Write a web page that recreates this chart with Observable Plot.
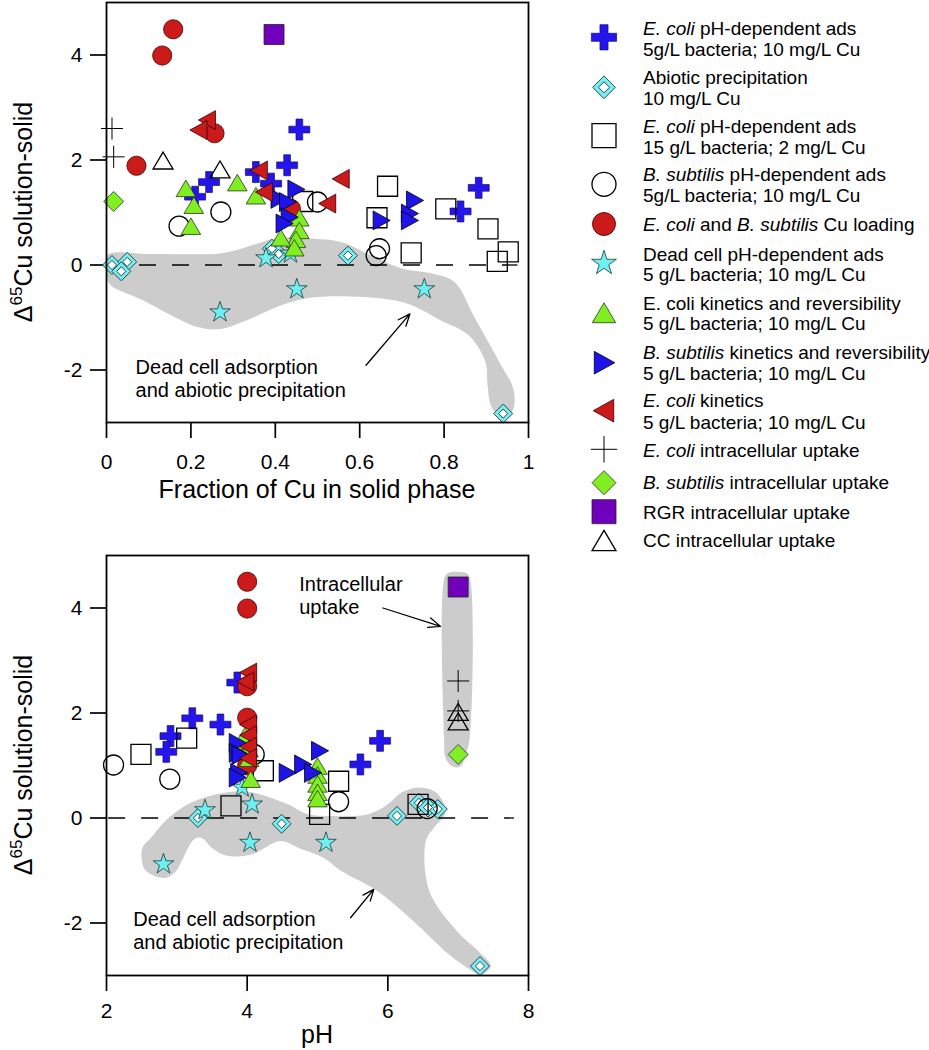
<!DOCTYPE html>
<html>
<head>
<meta charset="utf-8">
<script src="https://cdn.jsdelivr.net/npm/d3@7"></script>
<script src="https://cdn.jsdelivr.net/npm/@observablehq/plot@0.6"></script>
<style>
  body { margin: 0; background: #fff; font-family: "Liberation Sans", Arial, Helvetica, sans-serif; }
  #page { position: relative; width: 929px; height: 1050px; overflow: hidden; background: #fff; }
  .panel { position: absolute; left: 0; }
  #legend { position: absolute; left: 570px; top: 0; }
  svg [aria-label^="x-axis"] line, svg [aria-label^="x-axis"] path,
  svg [aria-label^="y-axis"] line, svg [aria-label^="y-axis"] path { stroke-width: 1.7px; }
</style>
</head>
<body>
<div id="page">
  <div id="top" class="panel" style="top:0px"></div>
  <div id="bot" class="panel" style="top:553px"></div>
  <div id="legend"></div>
</div>
<script>
// ---------------- DATA ----------------
// Tick values and labels
const fracTicks = [0, 0.2, 0.4, 0.6, 0.8, 1];
const fracTickLabels = ["0", "0.2", "0.4", "0.6", "0.8", "1"];
const phTicks = [2, 4, 6, 8];
const phTickLabels = ["2", "4", "6", "8"];
const dTicks = [-2, 0, 2, 4];
const dTickLabels = ["-2", "0", "2", "4"];

// Top panel: x = fraction of Cu in solid phase, y = Δ65Cu solution-solid
const ecAds5Frac = [0.457, 0.428, 0.354, 0.243, 0.210, 0.390, 0.882, 0.839];
const ecAds5FracD = [2.58, 1.90, 1.77, 1.58, 1.30, 1.55, 1.47, 1.02];
const abioticFrac = [0.013, 0.049, 0.035, 0.392, 0.408, 0.572, 0.940];
const abioticFracD = [0.00, 0.06, -0.12, 0.31, 0.21, 0.18, -2.83];
const ecAds15Frac = [0.666, 0.641, 0.804, 0.904, 0.722, 0.952, 0.926, 0.465];
const ecAds15FracD = [1.50, 0.90, 1.07, 0.69, 0.23, 0.25, 0.07, 1.21];
const bsAdsFrac = [0.172, 0.271, 0.500, 0.647, 0.639];
const bsAdsFracD = [0.74, 1.01, 1.20, 0.31, 0.18];
const loadingFrac = [0.158, 0.132, 0.071, 0.256, 0.437];
const loadingFracD = [4.49, 3.99, 1.89, 2.51, 1.07];
const deadFrac = [0.269, 0.378, 0.451, 0.753, 0.436];
const deadFracD = [-0.90, 0.13, -0.46, -0.46, 0.22];
const ecKinRevFrac = [0.188, 0.207, 0.200, 0.310, 0.354, 0.457, 0.457, 0.449, 0.445, 0.413];
const ecKinRevFracD = [1.44, 1.12, 0.72, 1.55, 1.30, 0.88, 0.64, 0.47, 0.31, 0.50];
const bsKinRevFrac = [0.449, 0.409, 0.429, 0.433, 0.421, 0.730, 0.718, 0.718, 0.651];
const bsKinRevFracD = [1.44, 1.26, 1.20, 0.91, 0.79, 1.23, 0.98, 0.85, 0.85];
const ecKinFrac = [0.239, 0.219, 0.362, 0.374, 0.556, 0.524];
const ecKinFracD = [2.76, 2.57, 1.80, 1.39, 1.64, 1.17];
const ecIntraFrac = [0.013, 0.017];
const ecIntraFracD = [2.60, 2.06];
const bsIntraFrac = [0.017];
const bsIntraFracD = [1.21];
const rgrFrac = [0.397];
const rgrFracD = [4.39];
const ccFrac = [0.134, 0.269];
const ccFracD = [1.97, 1.80];

// Bottom panel: x = pH, y = Δ65Cu solution-solid
const ecAds5PH = [3.86, 3.22, 3.62, 2.91, 2.85, 5.89, 5.61];
const ecAds5PHD = [2.58, 1.90, 1.78, 1.56, 1.26, 1.47, 1.02];
const abioticPH = [3.30, 4.49, 6.13, 6.44, 6.57, 6.71, 7.31];
const abioticPHD = [0.00, -0.11, 0.04, 0.29, 0.20, 0.17, -2.82];
const ecAds15PH = [2.49, 3.14, 3.77, 4.23, 5.30, 5.03, 6.43];
const ecAds15PHD = [1.21, 1.52, 0.23, 0.90, 0.70, 0.07, 0.26];
const bsAdsPH = [2.10, 2.90, 4.10, 5.30, 6.56];
const bsAdsPHD = [1.01, 0.74, 1.21, 0.31, 0.18];
const loadingPH = [4.0, 4.0, 4.0, 4.0, 4.0];
const loadingPHD = [4.50, 3.99, 2.51, 1.91, 1.00];
const deadPH = [2.81, 3.40, 4.07, 4.04, 5.12, 3.93];
const deadPHD = [-0.88, 0.15, 0.26, -0.47, -0.47, 0.58];
const ecKinRevPH = [3.98, 4.03, 4.05, 3.97, 4.02, 5.0, 5.0, 5.0, 5.0, 5.0];
const ecKinRevPHD = [1.44, 1.12, 0.72, 1.55, 1.30, 0.97, 0.80, 0.63, 0.47, 0.35];
const bsKinRevPH = [3.86, 3.86, 3.90, 3.88, 3.86, 5.03, 4.79, 4.93, 4.57];
const bsKinRevPHD = [1.43, 1.24, 1.20, 0.86, 0.77, 1.28, 1.02, 0.86, 0.86];
const ecKinPH = [4.02, 3.98, 4.02, 4.02, 4.02, 4.02];
const ecKinPHD = [2.77, 2.60, 1.78, 1.58, 1.36, 1.14];
const ecIntraPH = [7.0, 7.0];
const ecIntraPHD = [2.61, 2.04];
const bsIntraPH = [7.0];
const bsIntraPHD = [1.21];
const rgrPH = [7.0];
const rgrPHD = [4.40];
const ccPH = [7.0, 7.0];
const ccPHD = [2.00, 1.82];

// Shaded envelopes
const deadBandFrac = [0.002, 0.105, 0.278, 0.354, 0.401, 0.461, 0.556, 0.620, 0.698, 0.777, 0.824, 0.874, 0.931, 0.964, 0.964, 0.941, 0.912, 0.903, 0.898, 0.857, 0.791, 0.722, 0.665, 0.499, 0.416, 0.333, 0.266, 0.216, 0.081, 0.007, 0.0];
const deadBandFracD = [0.19, 0.21, 0.23, 0.40, 0.51, 0.51, 0.44, 0.21, -0.06, -0.17, -0.32, -1.03, -1.85, -2.36, -2.74, -2.95, -2.70, -2.29, -1.85, -1.33, -1.05, -0.76, -0.65, -0.61, -0.76, -1.05, -1.22, -1.18, -0.65, -0.36, -0.13];
const deadBandPH = [2.53, 2.51, 2.63, 2.89, 3.20, 3.55, 3.91, 4.19, 4.58, 4.86, 5.19, 5.72, 6.00, 6.19, 6.43, 6.66, 6.78, 6.81, 6.66, 6.54, 6.59, 6.98, 7.28, 7.46, 7.33, 7.13, 6.87, 6.36, 5.85, 5.34, 5.09, 4.73, 4.47, 4.07, 3.71, 3.50, 3.35, 3.25, 3.09, 2.99, 2.84, 2.68];
const deadBandPHD = [-0.95, -0.57, -0.38, 0.01, 0.29, 0.45, 0.51, 0.45, 0.26, 0.07, 0.04, 0.07, 0.26, 0.48, 0.58, 0.51, 0.32, 0.07, -0.18, -0.44, -1.39, -2.15, -2.53, -2.82, -2.98, -2.85, -2.60, -1.96, -1.39, -1.01, -0.76, -0.57, -0.44, -0.69, -0.72, -0.57, -0.38, -0.40, -0.76, -1.01, -1.14, -1.10];
const intraBandPH = [6.80, 6.85, 6.98, 7.12, 7.17, 7.17, 7.12, 7.03, 6.92, 6.82, 6.80];
const intraBandPHD = [4.55, 4.66, 4.69, 4.66, 4.55, 1.60, 1.25, 0.98, 0.98, 1.15, 1.50];

// Annotations
const topNoteX = [0.069], topNoteY = [-2.16], topNoteText = ["Dead cell adsorption\nand abiotic precipitation"];
const topArrowX1 = [0.615], topArrowY1 = [-1.91], topArrowX2 = [0.719], topArrowY2 = [-0.93];
const botNoteX = [2.38, 4.74], botNoteY = [-2.14, 4.25], botNoteText = ["Dead cell adsorption\nand abiotic precipitation", "Intracellular\nuptake"];
const botArrowX1 = [5.47, 5.93], botArrowY1 = [-1.90, 4.00], botArrowX2 = [5.80, 6.75], botArrowY2 = [-1.36, 3.65];

// Legend labels: segments of [text, italic]
const legendLabels = [
  [[["E. coli", 1], [" pH-dependent ads", 0]], [["5g/L bacteria; 10 mg/L Cu", 0]]],
  [[["Abiotic precipitation", 0]], [["10 mg/L Cu", 0]]],
  [[["E. coli", 1], [" pH-dependent ads", 0]], [["15 g/L bacteria; 2 mg/L Cu", 0]]],
  [[["B. subtilis", 1], [" pH-dependent ads", 0]], [["5g/L bacteria; 10 mg/L Cu", 0]]],
  [[["E. coli", 1], [" and ", 0], ["B. subtilis", 1], [" Cu loading", 0]]],
  [[["Dead cell pH-dependent ads", 0]], [["5 g/L bacteria; 10 mg/L Cu", 0]]],
  [[["E. coli kinetics and reversibility", 0]], [["5 g/L bacteria; 10 mg/L Cu", 0]]],
  [[["B. subtilis", 1], [" kinetics and reversibility", 0]], [["5 g/L bacteria; 10 mg/L Cu", 0]]],
  [[["E. coli", 1], [" kinetics", 0]], [["5 g/L bacteria; 10 mg/L Cu", 0]]],
  [[["E. coli", 1], [" intracellular uptake", 0]]],
  [[["B. subtilis", 1], [" intracellular uptake", 0]]],
  [[["RGR intracellular uptake", 0]]],
  [[["CC intracellular uptake", 0]]]
];

// ---------------- SYMBOLS ----------------
const rOf = (size) => Math.sqrt(size / Math.PI);
const crossSym = { draw(c, size) { const r = rOf(size), t = r * 0.32;
  c.moveTo(-r, -t); c.lineTo(-t, -t); c.lineTo(-t, -r); c.lineTo(t, -r); c.lineTo(t, -t); c.lineTo(r, -t);
  c.lineTo(r, t); c.lineTo(t, t); c.lineTo(t, r); c.lineTo(-t, r); c.lineTo(-t, t); c.lineTo(-r, t); c.closePath(); } };
const thinPlusSym = { draw(c, size) { const r = rOf(size); c.moveTo(-r, 0); c.lineTo(r, 0); c.moveTo(0, -r); c.lineTo(0, r); } };
const diamondSym = { draw(c, size) { const r = rOf(size); c.moveTo(0, -r); c.lineTo(r, 0); c.lineTo(0, r); c.lineTo(-r, 0); c.closePath(); } };
const squareSym = { draw(c, size) { const r = rOf(size); c.moveTo(-r, -r); c.lineTo(r, -r); c.lineTo(r, r); c.lineTo(-r, r); c.closePath(); } };
const triUpSym = { draw(c, size) { const r = rOf(size); c.moveTo(0, -r); c.lineTo(1.05 * r, 0.78 * r); c.lineTo(-1.05 * r, 0.78 * r); c.closePath(); } };
const triRightSym = { draw(c, size) { const r = rOf(size); c.moveTo(r, 0); c.lineTo(-0.9 * r, -1.05 * r); c.lineTo(-0.9 * r, 1.05 * r); c.closePath(); } };
const triLeftSym = { draw(c, size) { const r = rOf(size); c.moveTo(-r, 0); c.lineTo(0.9 * r, -1.05 * r); c.lineTo(0.9 * r, 1.05 * r); c.closePath(); } };

const styles = [
  { symbol: crossSym, r: 10.5, fill: "#2414ee", stroke: "#1a1060", strokeWidth: 0.7 },
  [{ symbol: diamondSym, r: 9.5, fill: "#78eef2", stroke: "#1a3a3a", strokeWidth: 0.9 },
   { symbol: diamondSym, r: 4.6, fill: "#ffffff", stroke: "#1a3a3a", strokeWidth: 0.9 }],
  { symbol: squareSym, r: 10, fill: "none", stroke: "#000", strokeWidth: 1.3 },
  { symbol: "circle", r: 10, fill: "none", stroke: "#000", strokeWidth: 1.3 },
  { symbol: "circle", r: 9.6, fill: "#cc1a1a", stroke: "#400", strokeWidth: 0.8 },
  { symbol: "star", r: 6.5, fill: "#6ff0f0", stroke: "#1a3a3a", strokeWidth: 0.8 },
  { symbol: triUpSym, r: 9.3, fill: "#80ee22", stroke: "#2a3a1a", strokeWidth: 0.8 },
  { symbol: triRightSym, r: 9, fill: "#1e14e8", stroke: "#000", strokeWidth: 0.8 },
  { symbol: triLeftSym, r: 9, fill: "#cc1a1a", stroke: "#300", strokeWidth: 0.8 },
  { symbol: thinPlusSym, r: 11, fill: "none", stroke: "#000", strokeWidth: 1 },
  { symbol: diamondSym, r: 10, fill: "#80ee22", stroke: "#233", strokeWidth: 0.8 },
  { symbol: squareSym, r: 10, fill: "#7000bb", stroke: "#222", strokeWidth: 0.8 },
  { symbol: triUpSym, r: 9.5, fill: "none", stroke: "#000", strokeWidth: 1.3 }
];

const topSeries = [
  [ecAds5Frac, ecAds5FracD], [abioticFrac, abioticFracD], [ecAds15Frac, ecAds15FracD], [bsAdsFrac, bsAdsFracD],
  [loadingFrac, loadingFracD], [deadFrac, deadFracD], [ecKinRevFrac, ecKinRevFracD], [bsKinRevFrac, bsKinRevFracD],
  [ecKinFrac, ecKinFracD], [ecIntraFrac, ecIntraFracD], [bsIntraFrac, bsIntraFracD], [rgrFrac, rgrFracD], [ccFrac, ccFracD]
];
const botSeries = [
  [ecAds5PH, ecAds5PHD], [abioticPH, abioticPHD], [ecAds15PH, ecAds15PHD], [bsAdsPH, bsAdsPHD],
  [loadingPH, loadingPHD], [deadPH, deadPHD], [ecKinRevPH, ecKinRevPHD], [bsKinRevPH, bsKinRevPHD],
  [ecKinPH, ecKinPHD], [ecIntraPH, ecIntraPHD], [bsIntraPH, bsIntraPHD], [rgrPH, rgrPHD], [ccPH, ccPHD]
];

function seriesMarks(series) {
  const marks = [];
  series.forEach(([xs, ys], i) => {
    const st = Array.isArray(styles[i]) ? styles[i] : [styles[i]];
    st.forEach(s => marks.push(Plot.dot(xs, { x: xs, y: ys, ...s })));
  });
  return marks;
}
const band = (xs, ys) => Plot.line(xs, { x: xs, y: ys, fill: "#cccccc", stroke: "none", curve: "catmull-rom-closed", clip: true });
const dFormat = d => dTickLabels[dTicks.indexOf(d)];
const FONT = "'Liberation Sans', Arial, Helvetica, sans-serif";

function addLabels(svg, xTitle, xBaseline) {
  const s = d3.select(svg);
  const t = s.append("text").attr("transform", "translate(32,212) rotate(-90)")
    .attr("text-anchor", "middle").attr("font-size", 25).attr("fill", "#000").attr("font-family", FONT);
  t.append("tspan").text("Δ");
  t.append("tspan").attr("dy", -10).attr("font-size", 17).text("65");
  t.append("tspan").attr("dy", 10).text("Cu solution-solid");
  s.append("text").attr("x", 317).attr("y", xBaseline).attr("text-anchor", "middle")
    .attr("font-size", 25).attr("fill", "#000").attr("font-family", FONT).text(xTitle);
}

// ---------------- TOP PANEL ----------------
const topPlot = Plot.plot({
  width: 560, height: 500, marginLeft: 106, marginRight: 32, marginTop: 2, marginBottom: 78,
  style: { fontFamily: FONT, fontSize: "21px", color: "#000", background: "#fff", overflow: "visible" },
  x: { domain: [0, 1], ticks: fracTicks, tickFormat: d => fracTickLabels[fracTicks.indexOf(d)], tickSize: 16, tickPadding: 16, label: null },
  y: { domain: [-3, 5], ticks: dTicks, tickFormat: dFormat, tickSize: 16, tickPadding: 8, label: null },
  marks: [
    band(deadBandFrac, deadBandFracD),
    Plot.ruleY([0], { x1: () => 0, x2: () => 0.975, stroke: "#000", strokeWidth: 1.3, strokeDasharray: "17,16" }),
    Plot.arrow(topArrowX1, { x1: topArrowX1, y1: topArrowY1, x2: topArrowX2, y2: topArrowY2, stroke: "#000", strokeWidth: 1.3, headLength: 15, headAngle: 45 }),
    Plot.text(topNoteText, { x: topNoteX, y: topNoteY, text: d => d, textAnchor: "start", fontSize: 20, lineHeight: 1.15, fill: "#000" }),
    ...seriesMarks(topSeries),
    Plot.frame({ stroke: "#000", strokeWidth: 1.8 })
  ]
});
addLabels(topPlot, "Fraction of Cu in solid phase", 498);
document.getElementById("top").appendChild(topPlot);

// ---------------- BOTTOM PANEL ----------------
const botPlot = Plot.plot({
  width: 560, height: 497, marginLeft: 106, marginRight: 32, marginTop: 2, marginBottom: 75,
  style: { fontFamily: FONT, fontSize: "21px", color: "#000", background: "#fff", overflow: "visible" },
  x: { domain: [2, 8], ticks: phTicks, tickFormat: d => phTickLabels[phTicks.indexOf(d)], tickSize: 16, tickPadding: 12, label: null },
  y: { domain: [-3, 5], ticks: dTicks, tickFormat: dFormat, tickSize: 16, tickPadding: 8, label: null },
  marks: [
    band(deadBandPH, deadBandPHD),
    band(intraBandPH, intraBandPHD),
    Plot.ruleY([0], { x1: () => 2.03, x2: () => 7.8, stroke: "#000", strokeWidth: 1.3, strokeDasharray: "17,16" }),
    Plot.arrow(botArrowX1, { x1: botArrowX1, y1: botArrowY1, x2: botArrowX2, y2: botArrowY2, stroke: "#000", strokeWidth: 1.3, headLength: 15, headAngle: 45 }),
    Plot.text(botNoteText, { x: botNoteX, y: botNoteY, text: d => d, textAnchor: "start", fontSize: 20, lineHeight: 1.15, fill: "#000" }),
    ...seriesMarks(botSeries),
    Plot.frame({ stroke: "#000", strokeWidth: 1.8 })
  ]
});
addLabels(botPlot, "pH", 490);
document.getElementById("bot").appendChild(botPlot);

// ---------------- LEGEND ----------------
const legendMarkerY = [37.3, 87.3, 135.7, 184.3, 224, 263.3, 314, 362.7, 410.7, 449.3, 482.7, 511.7, 541.7];
const legendTextY = [[28.3, 49.3], [77.3, 98.3], [126, 146.7], [174, 195], [224.3], [254, 274.3], [303.3, 323.3],
  [351.7, 372.7], [400, 421.7], [450], [481.7], [511.7], [540]];
const LX0 = 570, markerCX = 604 - LX0, textX = 643 - LX0, legScale = 1.2;
const leg = d3.select("#legend").append("svg").attr("width", 359).attr("height", 560)
  .attr("font-family", FONT).attr("font-size", 19);
const symType = s => s === "circle" ? d3.symbolCircle : s === "star" ? d3.symbolStar : s;
styles.forEach((st, i) => {
  const list = Array.isArray(st) ? st : [st];
  list.forEach(s => {
    const r = s.r * legScale;
    leg.append("path").attr("d", d3.symbol(symType(s.symbol), Math.PI * r * r)())
      .attr("transform", `translate(${markerCX},${legendMarkerY[i]})`)
      .attr("fill", s.fill).attr("stroke", s.stroke).attr("stroke-width", s.strokeWidth);
  });
  legendLabels[i].forEach((line, j) => {
    const t = leg.append("text").attr("x", textX).attr("y", legendTextY[i][j]).attr("dy", "0.36em").attr("fill", "#000");
    line.forEach(([txt, it]) => t.append("tspan").attr("font-style", it ? "italic" : "normal").text(txt));
  });
});
</script>
</body>
</html>
